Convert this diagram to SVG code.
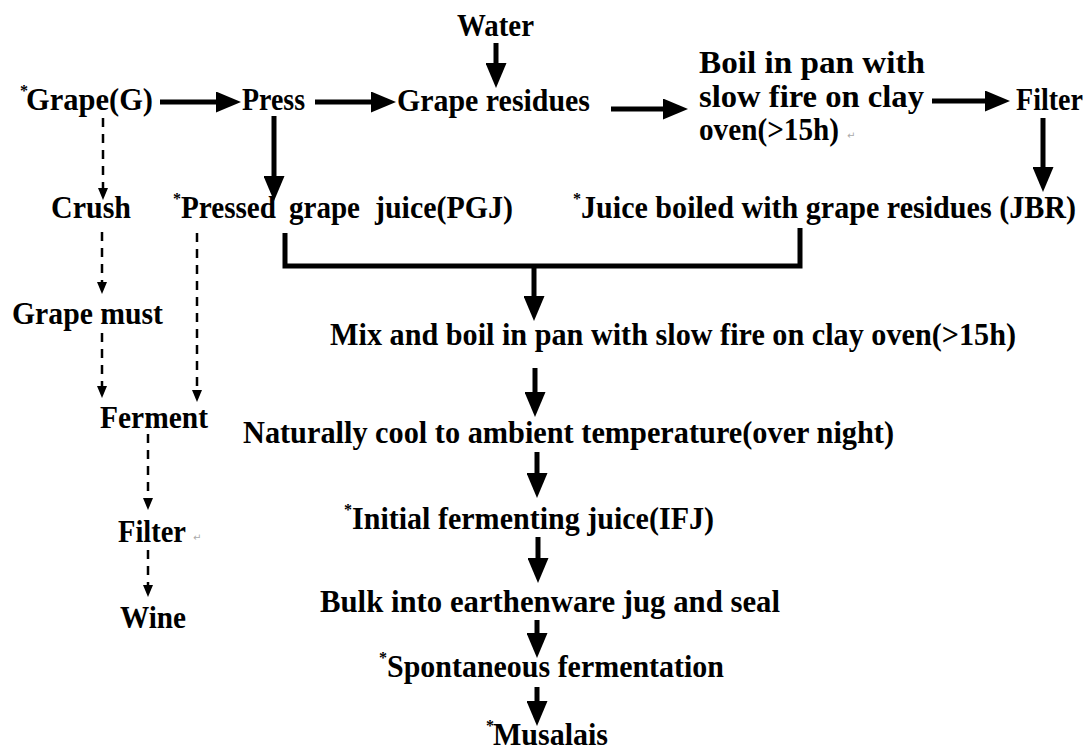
<svg xmlns="http://www.w3.org/2000/svg" width="1089" height="751" viewBox="0 0 1089 751">
<defs>
<style>
text{font-family:"Liberation Serif","Times New Roman",serif;font-weight:bold;font-size:31px;fill:#000}
text.ast{font-size:16px}
text.pm{font-family:"DejaVu Sans",sans-serif;font-weight:normal;font-size:10px;fill:#aaa}
.solid{stroke:#000;stroke-width:5;fill:none}
.dash{stroke:#000;stroke-width:2.5;fill:none;stroke-dasharray:9 7}
</style>
<marker id="big" markerUnits="userSpaceOnUse" markerWidth="25" markerHeight="21" refX="10" refY="10.5" orient="auto"><path d="M0,0 L25,10.5 L0,21 z" fill="#000"/></marker>
<marker id="small" markerUnits="userSpaceOnUse" markerWidth="12" markerHeight="10" refX="4" refY="5" orient="auto"><path d="M0,0 L12,5 L0,10 z" fill="#000"/></marker>
</defs>
<rect width="1089" height="751" fill="#fff"/>
<g id="connectors">
<line class="solid" x1="496" y1="43" x2="496" y2="73" marker-end="url(#big)"/>
<line class="solid" x1="160" y1="102" x2="226" y2="102" marker-end="url(#big)"/>
<line class="solid" x1="315" y1="102" x2="381" y2="102" marker-end="url(#big)"/>
<line class="solid" x1="611" y1="109" x2="673" y2="109" marker-end="url(#big)"/>
<line class="solid" x1="932" y1="101" x2="995" y2="101" marker-end="url(#big)"/>
<line class="solid" x1="1043" y1="118" x2="1043" y2="177" marker-end="url(#big)"/>
<line class="solid" x1="274" y1="116" x2="274" y2="186" marker-end="url(#big)"/>
<path class="solid" d="M285,233 V266 H800 V228"/>
<line class="solid" x1="534" y1="266" x2="534" y2="306" marker-end="url(#big)"/>
<line class="solid" x1="535" y1="368" x2="535" y2="402" marker-end="url(#big)"/>
<line class="solid" x1="537" y1="452" x2="537" y2="483" marker-end="url(#big)"/>
<line class="solid" x1="538" y1="537" x2="538" y2="568" marker-end="url(#big)"/>
<line class="solid" x1="537" y1="620" x2="537" y2="643" marker-end="url(#big)"/>
<line class="solid" x1="537" y1="687" x2="537" y2="711" marker-end="url(#big)"/>
<line class="dash" x1="103" y1="118" x2="103" y2="192" marker-end="url(#small)"/>
<line class="dash" x1="102" y1="232" x2="102" y2="286" marker-end="url(#small)"/>
<line class="dash" x1="102" y1="333" x2="102" y2="390" marker-end="url(#small)"/>
<line class="dash" x1="197" y1="233" x2="197" y2="394" marker-end="url(#small)"/>
<line class="dash" x1="148" y1="434" x2="148" y2="502" marker-end="url(#small)"/>
<line class="dash" x1="148" y1="550" x2="148" y2="589" marker-end="url(#small)"/>
</g>
<g id="water"><text x="457" y="36" textLength="77" lengthAdjust="spacingAndGlyphs">Water</text></g>
<g id="grape"><text class="ast" x="20" y="96">*</text><text x="26" y="110" textLength="127" lengthAdjust="spacingAndGlyphs">Grape(G)</text></g>
<g id="press"><text x="242" y="110" textLength="63" lengthAdjust="spacingAndGlyphs">Press</text></g>
<g id="grape-residues"><text x="397" y="111" textLength="193" lengthAdjust="spacingAndGlyphs">Grape residues</text></g>
<g id="boil">
<text x="699" y="73" textLength="226" lengthAdjust="spacingAndGlyphs">Boil in pan with</text>
<text x="699" y="107" textLength="225" lengthAdjust="spacingAndGlyphs">slow fire on clay</text>
<text x="699" y="140" textLength="140" lengthAdjust="spacingAndGlyphs">oven(&gt;15h)</text>
<text class="pm" x="847" y="139">↵</text>
</g>
<g id="filter-right"><text x="1016" y="110" textLength="67" lengthAdjust="spacingAndGlyphs">Filter</text></g>
<g id="crush"><text x="51" y="218" textLength="80" lengthAdjust="spacingAndGlyphs">Crush</text></g>
<g id="pgj"><text class="ast" x="173" y="204">*</text><text x="181" y="218" textLength="95" lengthAdjust="spacingAndGlyphs">Pressed</text><text x="289" y="218" textLength="71" lengthAdjust="spacingAndGlyphs">grape</text><text x="375" y="218" textLength="138" lengthAdjust="spacingAndGlyphs">juice(PGJ)</text></g>
<g id="jbr"><text class="ast" x="573" y="204">*</text><text x="581" y="218" textLength="495" lengthAdjust="spacingAndGlyphs">Juice boiled with grape residues (JBR)</text></g>
<g id="grape-must"><text x="12" y="324" textLength="151" lengthAdjust="spacingAndGlyphs">Grape must</text></g>
<g id="mix"><text x="330" y="345" textLength="686" lengthAdjust="spacingAndGlyphs">Mix and boil in pan with slow fire on clay oven(&gt;15h)</text></g>
<g id="ferment"><text x="100" y="428" textLength="108" lengthAdjust="spacingAndGlyphs">Ferment</text></g>
<g id="cool"><text x="243" y="443" textLength="651" lengthAdjust="spacingAndGlyphs">Naturally cool to ambient temperature(over night)</text></g>
<g id="filter-left"><text x="118" y="542" textLength="68" lengthAdjust="spacingAndGlyphs">Filter</text><text class="pm" x="193" y="541">↵</text></g>
<g id="ifj"><text class="ast" x="344" y="515">*</text><text x="352" y="529" textLength="362" lengthAdjust="spacingAndGlyphs">Initial fermenting juice(IFJ)</text></g>
<g id="wine"><text x="120" y="628" textLength="66" lengthAdjust="spacingAndGlyphs">Wine</text></g>
<g id="bulk"><text x="320" y="612" textLength="460" lengthAdjust="spacingAndGlyphs">Bulk into earthenware jug and seal</text></g>
<g id="spont"><text class="ast" x="379" y="663">*</text><text x="387" y="677" textLength="337" lengthAdjust="spacingAndGlyphs">Spontaneous fermentation</text></g>
<g id="musalais"><text class="ast" x="486" y="731">*</text><text x="493" y="745" textLength="115" lengthAdjust="spacingAndGlyphs">Musalais</text></g>
</svg>
